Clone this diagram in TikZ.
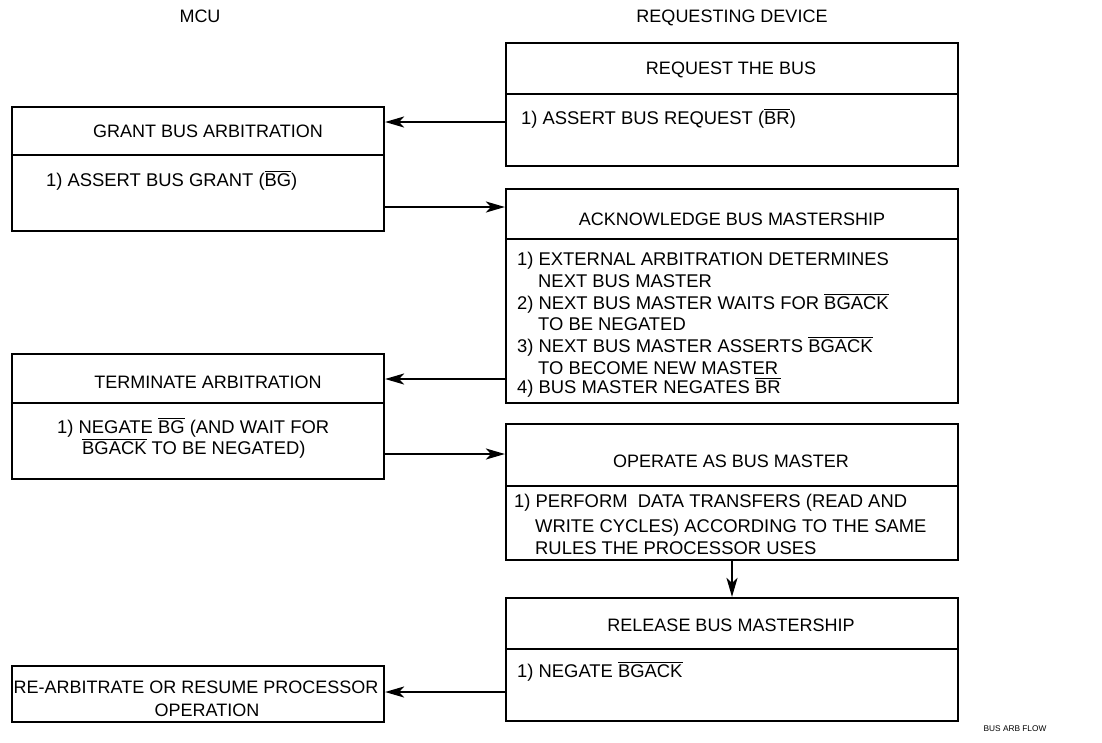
\documentclass[tikz,border=0pt]{standalone}
\usepackage{fontspec}
\setmainfont{Liberation Sans}
\usetikzlibrary{arrows.meta}
\newcommand\ovl[1]{\leavevmode\vbox{\hrule height 0.9pt\kern1.6pt\hbox{#1}}}
\begin{document}
\begin{tikzpicture}[x=1pt,y=-1pt,
  box/.style={draw,line width=2.2pt,inner sep=0pt},
  txt/.style={inner sep=0pt,font=\fontsize{18}{21.5}\selectfont},
  btxt/.style={inner sep=0pt,font=\fontsize{18.4}{21.5}\selectfont},
  lt/.style={btxt,anchor=base west},
  ct/.style={txt,anchor=base},
  divl/.style={line width=2.2pt},
  arr/.style={line width=2.2pt,-{Stealth[length=19pt,width=11pt,inset=5pt]}}]
\useasboundingbox (0,0) rectangle (1102,742);

% column headers
\node[ct] (hmcu) at (200,22.3) {MCU};
\node[ct] (hdev) at (732,22.3) {REQUESTING DEVICE};

% boxes
\node[box,minimum width=452pt,minimum height=123pt] (req) at (732,104.5) {};
\node[box,minimum width=372pt,minimum height=124pt] (grant) at (198,169) {};
\node[box,minimum width=452pt,minimum height=214pt] (ack) at (732,296) {};
\node[box,minimum width=372pt,minimum height=125pt] (term) at (198,416.5) {};
\node[box,minimum width=452pt,minimum height=136pt] (oper) at (732,492) {};
\node[box,minimum width=452pt,minimum height=123pt] (rel) at (732,659.5) {};
\node[box,minimum width=372pt,minimum height=56pt] (rearb) at (198,694) {};

% dividers
\draw[divl] (req.west |- 0,94) -- (req.east |- 0,94);
\draw[divl] (grant.west |- 0,155) -- (grant.east |- 0,155);
\draw[divl] (ack.west |- 0,239) -- (ack.east |- 0,239);
\draw[divl] (term.west |- 0,403) -- (term.east |- 0,403);
\draw[divl] (oper.west |- 0,486) -- (oper.east |- 0,486);
\draw[divl] (rel.west |- 0,649) -- (rel.east |- 0,649);

% request box
\node[ct] (reqT) at (731,74.3) {REQUEST THE BUS};
\node[lt] (reqB) at (521,124.3) {1) ASSERT BUS REQUEST (\ovl{BR})};

% grant box
\node[ct] (grantT) at (208,137.3) {GRANT BUS ARBITRATION};
\node[lt] (grantB) at (46,186.3) {1) ASSERT BUS GRANT (\ovl{BG})};

% acknowledge box
\node[ct] (ackT) at (732,225.3) {ACKNOWLEDGE BUS MASTERSHIP};
\node[lt] (ack1) at (517,265.3) {1) EXTERNAL ARBITRATION DETERMINES};
\node[lt] (ack2) at (538,287.3) {NEXT BUS MASTER};
\node[lt] (ack3) at (517,309.3) {2) NEXT BUS MASTER WAITS FOR \ovl{BGACK}};
\node[lt] (ack4) at (538,330.3) {TO BE NEGATED};
\node[lt] (ack5) at (517,352.3) {3) NEXT BUS MASTER ASSERTS \ovl{BGACK}};
\node[lt] (ack6) at (538,374.3) {TO BECOME NEW MASTER};
\node[lt] (ack7) at (517,393.3) {4) BUS MASTER NEGATES \ovl{BR}};

% terminate box
\node[ct] (termT) at (208,388.3) {TERMINATE ARBITRATION};
\node[lt] (term1) at (57,433.3) {1) NEGATE \ovl{BG} (AND WAIT FOR};
\node[lt] (term2) at (82,454.3) {\ovl{BGACK} TO BE NEGATED)};

% operate box
\node[ct] (operT) at (731,467.3) {OPERATE AS BUS MASTER};
\node[lt] (oper1) at (514,507.3) {1) PERFORM\ \ DATA TRANSFERS (READ AND};
\node[lt] (oper2) at (535,532.3) {WRITE CYCLES) ACCORDING TO THE SAME};
\node[lt] (oper3) at (535,554.3) {RULES THE PROCESSOR USES};

% release box
\node[ct] (relT) at (731,631.3) {RELEASE BUS MASTERSHIP};
\node[lt] (relB) at (517,677.3) {1) NEGATE \ovl{BGACK}};

% re-arbitrate box
\node[ct] (ra1) at (196,693.3) {RE-ARBITRATE OR RESUME PROCESSOR};
\node[ct] (ra2) at (207,716.3) {OPERATION};

% footer
\node[inner sep=0pt,anchor=base,font=\fontsize{8.3}{10}\selectfont] (foot) at (1015,731.2) {BUS ARB FLOW};

% connectors
\draw[arr] (req.west |- 0,122) -- (grant.east |- 0,122);
\draw[arr] (grant.east |- 0,207) -- (ack.west |- 0,207);
\draw[arr] (ack.west |- 0,379) -- (term.east |- 0,379);
\draw[arr] (term.east |- 0,454) -- (oper.west |- 0,454);
\draw[arr] (oper.south -| 732,0) -- (rel.north -| 732,0);
\draw[arr] (rel.west |- 0,692) -- (rearb.east |- 0,692);
\end{tikzpicture}
\end{document}
